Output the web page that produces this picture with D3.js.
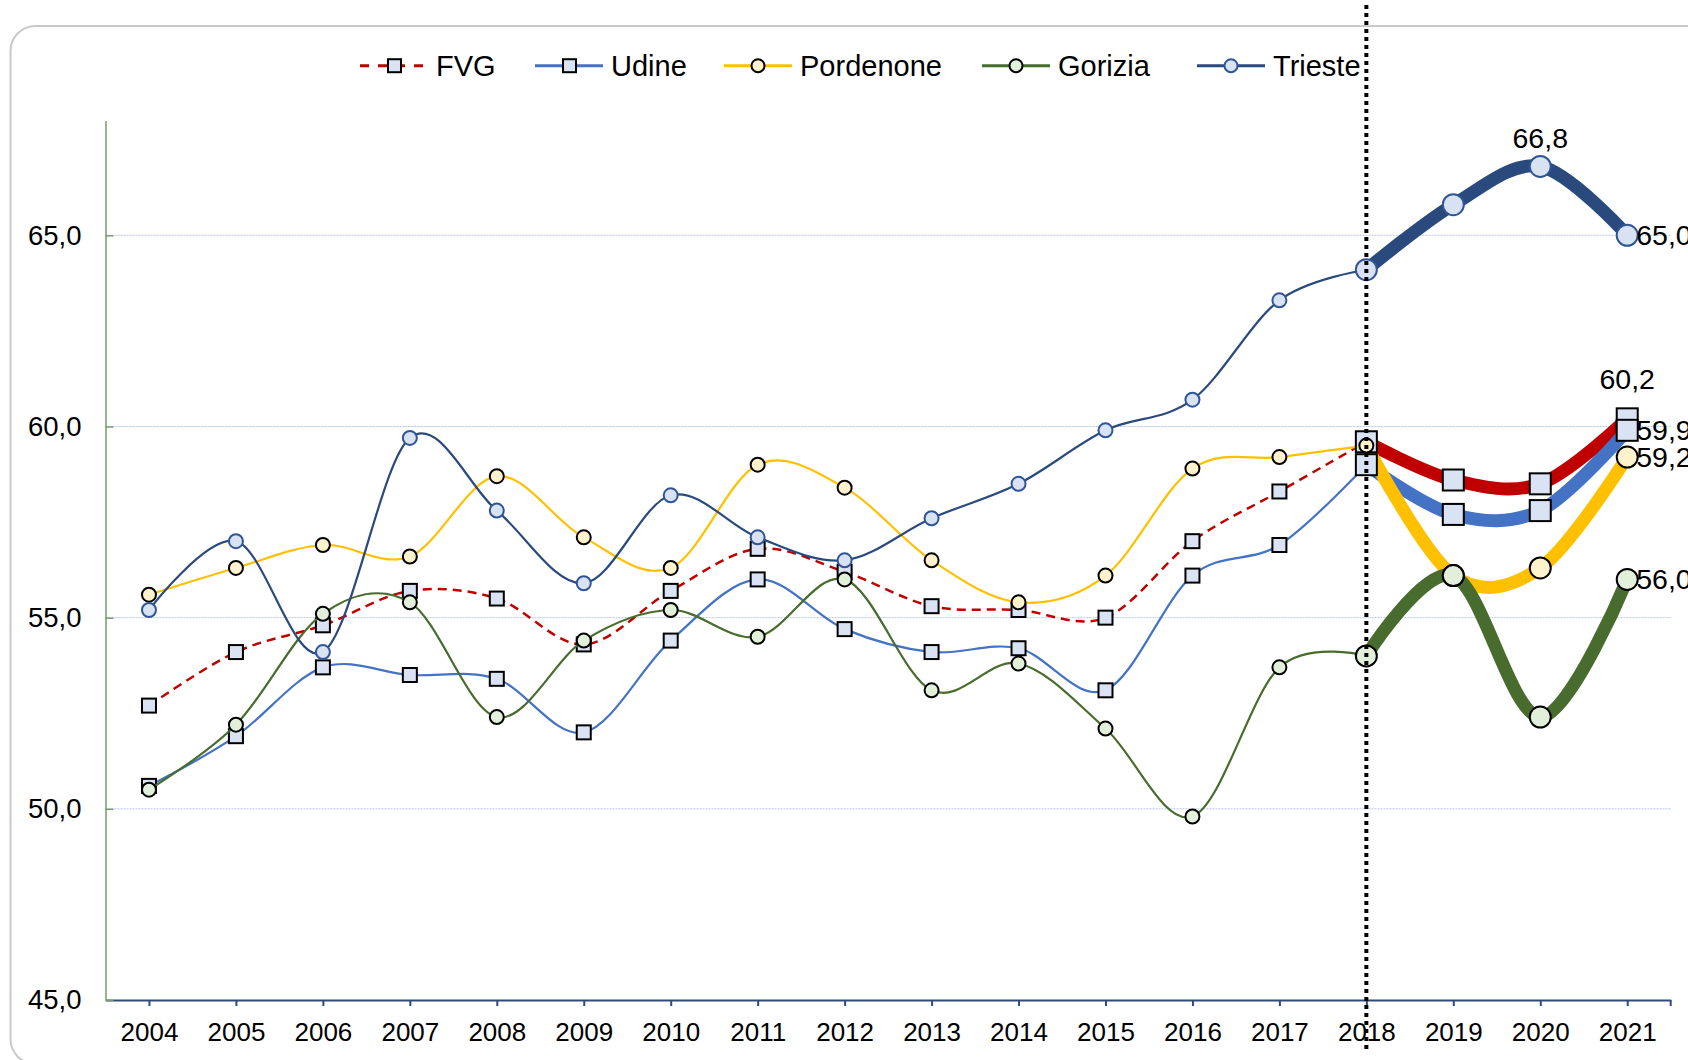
<!DOCTYPE html>
<html>
<head>
<meta charset="utf-8">
<title>Tasso di occupazione - FVG e province</title>
<script src="https://cdn.jsdelivr.net/npm/d3@7"></script>
<style>
	body { margin: 0; background: #fff; }
	svg text { font-family: "Liberation Sans", Arial, sans-serif; fill: #000; }
	.axis text { font-size: 26px; }
	.y.axis text { font-size: 27.5px; }
	.legend text { font-size: 29px; }
	.label { font-size: 28.5px; }
</style>
</head>
<body>
<svg id="chart" width="1688" height="1060"></svg>
<script>
// categories and values
var years = ["2004", "2005", "2006", "2007", "2008", "2009", "2010", "2011", "2012",
	"2013", "2014", "2015", "2016", "2017", "2018", "2019", "2020", "2021"];

var fvg       = [52.7, 54.1, 54.8, 55.7, 55.5, 54.3, 55.7, 56.8, 56.2, 55.3, 55.2, 55.0, 57.0, 58.3, 59.6, 58.6, 58.5, 60.2];
var udine     = [50.6, 51.9, 53.7, 53.5, 53.4, 52.0, 54.4, 56.0, 54.7, 54.1, 54.2, 53.1, 56.1, 56.9, 59.0, 57.7, 57.8, 59.9];
var pordenone = [55.6, 56.3, 56.9, 56.6, 58.7, 57.1, 56.3, 59.0, 58.4, 56.5, 55.4, 56.1, 58.9, 59.2, 59.5, 56.1, 56.3, 59.2];
var gorizia   = [50.5, 52.2, 55.1, 55.4, 52.4, 54.4, 55.2, 54.5, 56.0, 53.1, 53.8, 52.1, 49.8, 53.7, 54.0, 56.1, 52.4, 56.0];
var trieste   = [55.2, 57.0, 54.1, 59.7, 57.8, 55.9, 58.2, 57.1, 56.5, 57.6, 58.5, 59.9, 60.7, 63.3, 64.1, 65.8, 66.8, 65.0];

var yTicks = [45, 50, 55, 60, 65];
var splitYear = "2018";   // thin line up to here, thick line after

var labelSpecs = [
	{series: "Trieste", year: "2020", pos: "above"},
	{series: "Trieste", year: "2021", pos: "right"},
	{series: "FVG", year: "2021", pos: "above"},
	{series: "Udine", year: "2021", pos: "right"},
	{series: "Pordenone", year: "2021", pos: "right"},
	{series: "Gorizia", year: "2021", pos: "right"}
];

var series = [
	{name: "FVG", values: fvg, color: "#c00000", marker: "square", fill: "#dae3f3", stroke: "#000", dash: "9,6", smallJoin: false},
	{name: "Udine", values: udine, color: "#4472c4", marker: "square", fill: "#dae3f3", stroke: "#000", dash: null, smallJoin: false},
	{name: "Pordenone", values: pordenone, color: "#ffc000", marker: "circle", fill: "#fff2cc", stroke: "#000", dash: null, smallJoin: true},
	{name: "Gorizia", values: gorizia, color: "#486c2d", marker: "circle", fill: "#e2efda", stroke: "#000", dash: null, smallJoin: false},
	{name: "Trieste", values: trieste, color: "#2a4a7e", marker: "circle", fill: "#d9e2f3", stroke: "#2f5597", dash: null, smallJoin: false}
];

var itLocale = d3.formatLocale({decimal: ",", thousands: ".", grouping: [3], currency: ["", " €"]});
var fmt = itLocale.format(".1f");

var plot = {left: 105.5, right: 1670.7, top: 120.6, bottom: 1000};

var x = d3.scalePoint().domain(years).range([plot.left, plot.right]).padding(0.5);
var y = d3.scaleLinear().domain([45, 68]).range([plot.bottom, plot.top]);

var svg = d3.select("#chart");

// outer rounded frame (runs off the right and bottom edges)
svg.append("rect")
	.attr("x", 10.5).attr("y", 26)
	.attr("width", 1800).attr("height", 1038)
	.attr("rx", 25).attr("ry", 25)
	.attr("fill", "none")
	.attr("stroke", "#c9c9c9")
	.attr("stroke-width", 2);

// gridlines
svg.append("g").selectAll("line")
	.data(yTicks.filter(function(t) { return t > 45; }))
	.enter().append("line")
	.attr("x1", plot.left).attr("x2", plot.right)
	.attr("y1", function(d) { return y(d); })
	.attr("y2", function(d) { return y(d); })
	.attr("stroke", "#b4c7e7")
	.attr("stroke-width", 1)
	.attr("stroke-dasharray", "2,1");

// x axis
var xAxis = svg.append("g")
	.attr("class", "x axis")
	.attr("transform", "translate(0," + plot.bottom + ")")
	.call(d3.axisBottom(x).tickSize(6).tickSizeOuter(0).tickPadding(17));
xAxis.select(".domain").attr("stroke", "#2f4b7c").attr("stroke-width", 2);
xAxis.selectAll(".tick line").attr("stroke", "#2f4b7c").attr("stroke-width", 2);
xAxis.append("line")
	.attr("x1", plot.right).attr("x2", plot.right)
	.attr("y1", 0).attr("y2", 6)
	.attr("stroke", "#2f4b7c").attr("stroke-width", 2);

// y axis
var yAxis = svg.append("g")
	.attr("class", "y axis")
	.attr("transform", "translate(" + plot.left + ",0)")
	.call(d3.axisLeft(y).tickValues(yTicks).tickSize(8).tickSizeOuter(0).tickPadding(16)
		.tickFormat(function(d) { return fmt(d); }));
yAxis.select(".domain").attr("stroke", "#7a9a6c").attr("stroke-width", 1.5);
yAxis.selectAll(".tick line").attr("x2", 8).attr("stroke", "#7a9a6c").attr("stroke-width", 1.5);

var line = d3.line()
	.x(function(d) { return x(d.year); })
	.y(function(d) { return y(d.value); })
	.curve(d3.curveCardinal.tension(0));

function points(s) {
	return s.values.map(function(v, i) { return {year: years[i], value: v}; });
}

function drawMarker(g, s, cx, cy, big) {
	if (s.marker === "square") {
		var size = big ? 21 : 14;
		g.append("rect")
			.attr("x", cx - size / 2).attr("y", cy - size / 2)
			.attr("width", size).attr("height", size)
			.attr("fill", s.fill).attr("stroke", s.stroke).attr("stroke-width", 2);
	} else {
		g.append("circle")
			.attr("cx", cx).attr("cy", cy)
			.attr("r", big ? 10.5 : 7)
			.attr("fill", s.fill).attr("stroke", s.stroke).attr("stroke-width", 2);
	}
}

var splitIndex = years.indexOf(splitYear);

// historic thin lines with small markers
var thin = svg.append("g");
series.forEach(function(s) {
	var pts = points(s).slice(0, splitIndex + 1);
	thin.append("path")
		.datum(pts)
		.attr("d", line)
		.attr("fill", "none")
		.attr("stroke", s.color)
		.attr("stroke-width", s.dash ? 2.5 : 2.2)
		.attr("stroke-dasharray", s.dash);
	var mg = thin.append("g");
	pts.slice(0, splitIndex).forEach(function(p) {
		drawMarker(mg, s, x(p.year), y(p.value), false);
	});
});

// thick lines for the last years
var thick = svg.append("g");
series.forEach(function(s) {
	thick.append("path")
		.datum(points(s).slice(splitIndex))
		.attr("d", line)
		.attr("fill", "none")
		.attr("stroke", s.color)
		.attr("stroke-width", 13);
});
series.forEach(function(s) {
	points(s).slice(splitIndex).forEach(function(p) {
		if (p.year === splitYear && s.smallJoin) return;
		drawMarker(thick, s, x(p.year), y(p.value), true);
	});
});
// junction markers shown small
series.filter(function(s) { return s.smallJoin; }).forEach(function(s) {
	drawMarker(thick, s, x(splitYear), y(s.values[splitIndex]), false);
});

// data labels
var labels = svg.append("g");
labelSpecs.forEach(function(l) {
	var s = series.find(function(d) { return d.name === l.series; });
	var v = s.values[years.indexOf(l.year)];
	var px = x(l.year), py = y(v);
	var t = labels.append("text").attr("class", "label").text(fmt(v));
	if (l.pos === "above") {
		t.attr("x", px).attr("y", py - (s.marker === "square" ? 30 : 18)).attr("text-anchor", "middle");
	} else {
		t.attr("x", px + 9).attr("y", py).attr("dy", "0.35em").attr("text-anchor", "start");
	}
});

// dotted separator at 2018
svg.append("line")
	.attr("x1", x(splitYear)).attr("x2", x(splitYear))
	.attr("y1", 5).attr("y2", 1050)
	.attr("stroke", "#000")
	.attr("stroke-width", 4)
	.attr("stroke-dasharray", "4,4");

// legend
var legendX = [360, 535, 724, 982, 1197];
var legendY = 65.7;
var legend = svg.append("g").attr("class", "legend");
series.forEach(function(s, i) {
	var g = legend.append("g").attr("transform", "translate(" + legendX[i] + "," + legendY + ")");
	g.append("line")
		.attr("x1", 0).attr("x2", 68)
		.attr("y1", 0).attr("y2", 0)
		.attr("stroke", s.color)
		.attr("stroke-width", 3)
		.attr("stroke-dasharray", s.dash ? "9,9" : null);
	if (s.marker === "square") {
		g.append("rect").attr("x", 28).attr("y", -6.5).attr("width", 13).attr("height", 13)
			.attr("fill", s.fill).attr("stroke", s.stroke).attr("stroke-width", 2);
	} else {
		g.append("circle").attr("cx", 34).attr("cy", 0).attr("r", 6.5)
			.attr("fill", s.fill).attr("stroke", s.stroke).attr("stroke-width", 2);
	}
	g.append("text")
		.attr("x", 76).attr("y", 10.3)
		.text(s.name);
});
</script>
</body>
</html>
